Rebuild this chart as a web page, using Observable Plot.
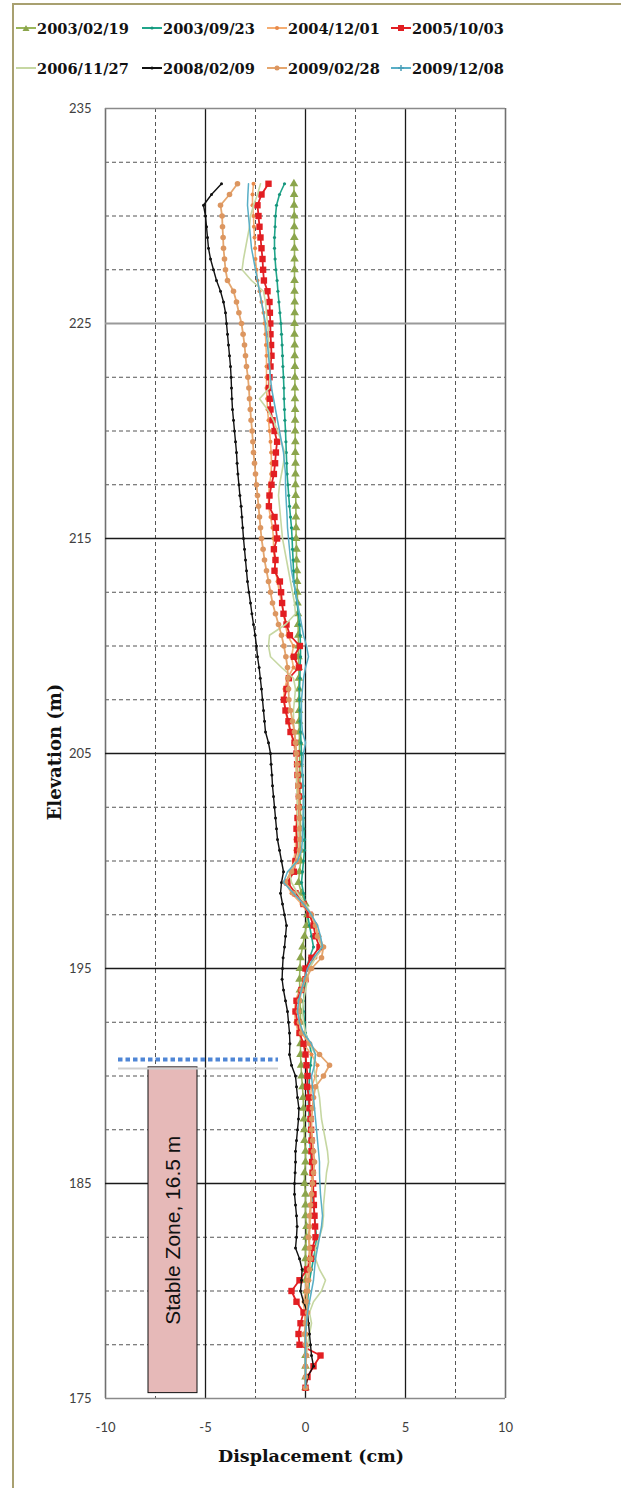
<!DOCTYPE html>
<html><head><meta charset="utf-8">
<script src="https://cdn.jsdelivr.net/npm/d3@7"></script>
<script src="https://cdn.jsdelivr.net/npm/@observablehq/plot@0.6"></script>
<style>
html,body{margin:0;padding:0;background:#fff;}
#wrap{position:relative;width:621px;height:1488px;overflow:hidden;background:#fff;}
#frame{position:absolute;left:12px;top:3px;width:700px;height:1600px;border:2px solid #a8a070;box-sizing:border-box;}
#chart{position:absolute;left:0;top:0;}
.item{position:absolute;display:flex;align-items:center;height:22px;white-space:nowrap;font-family:"DejaVu Serif",serif;font-weight:bold;font-size:14.6px;color:#111;}
.item svg{margin-right:1px;}
.lab{position:absolute;font-family:"DejaVu Serif",serif;font-weight:bold;font-size:17.5px;color:#111;white-space:nowrap;}
</style></head>
<body><div id="wrap"><div id="frame"></div><div id="chart"></div><div id="legend"></div></div>
<script>
// ---------- data ----------
const dates = ["2003/02/19","2003/09/23","2004/12/01","2005/10/03","2006/11/27","2008/02/09","2009/02/28","2009/12/08"];

const elevations = [
231.5,231,230.5,230,229.5,229,228.5,228,227.5,227,
226.5,226,225.5,225,224.5,224,223.5,223,222.5,222,
221.5,221,220.5,220,219.5,219,218.5,218,217.5,217,
216.5,216,215.5,215,214.5,214,213.5,213,212.5,212,
211.5,211,210.5,210,209.5,209,208.5,208,207.5,207,
206.5,206,205.5,205,204.5,204,203.5,203,202.5,202,
201.5,201,200.5,200,199.5,199,198.5,198,197.5,197,
196.5,196,195.5,195,194.5,194,193.5,193,192.5,192,
191.5,191,190.5,190,189.5,189,188.5,188,187.5,187,
186.5,186,185.5,185,184.5,184,183.5,183,182.5,182,
181.5,181,180.5,180,179.5,179,178.5,178,177.5,177,
176.5,176,175.5];

const d20030219 = [
-0.58,-0.57,-0.57,-0.56,-0.56,-0.56,-0.55,-0.55,-0.55,-0.55,
-0.55,-0.54,-0.54,-0.55,-0.55,-0.54,-0.54,-0.53,-0.53,-0.53,
-0.53,-0.52,-0.52,-0.52,-0.51,-0.51,-0.5,-0.5,-0.5,-0.49,
-0.48,-0.48,-0.47,-0.47,-0.45,-0.45,-0.43,-0.42,-0.41,-0.4,
-0.38,-0.37,-0.36,-0.35,-0.35,-0.34,-0.33,-0.33,-0.32,-0.32,
-0.32,-0.31,-0.3,-0.3,-0.29,-0.28,-0.28,-0.27,-0.26,-0.25,
-0.25,-0.25,-0.24,-0.24,-0.3,-0.35,-0.2,0.0,0.1,0.05,
-0.05,-0.15,-0.25,-0.28,-0.3,-0.28,-0.27,-0.25,-0.25,-0.25,
-0.25,-0.25,-0.22,-0.2,-0.15,-0.12,-0.1,-0.08,-0.06,-0.05,
0.0,0.0,-0.05,-0.05,0.0,0.0,0.0,0.05,0.05,0.0,
0.0,0.0,0.0,0.05,0.05,0.0,0.0,0.0,0.0,0.0,
0.0,0.0,0.0];

const d20030923 = [
-1.05,-1.3,-1.45,-1.5,-1.52,-1.55,-1.55,-1.52,-1.48,-1.42,
-1.38,-1.33,-1.28,-1.23,-1.2,-1.17,-1.15,-1.13,-1.1,-1.08,
-1.07,-1.05,-1.03,-1.0,-0.98,-0.96,-0.94,-0.92,-0.88,-0.84,
-0.8,-0.75,-0.7,-0.67,-0.65,-0.62,-0.6,-0.58,-0.5,-0.42,
-0.35,-0.3,-0.27,-0.25,-0.25,-0.27,-0.28,-0.3,-0.3,-0.28,
-0.27,-0.25,-0.22,-0.2,-0.18,-0.15,-0.12,-0.1,-0.1,-0.1,
-0.08,-0.05,-0.05,-0.1,-0.15,-0.2,-0.1,0.0,0.1,0.2,
0.3,0.4,0.2,0.05,0.0,-0.05,-0.1,-0.1,-0.05,0.0,
0.2,0.3,0.25,0.2,0.18,0.15,0.15,0.18,0.2,0.22,
0.25,0.28,0.3,0.32,0.35,0.4,0.45,0.5,0.55,0.5,
0.4,0.3,0.2,0.15,0.1,0.05,0.05,0.0,0.0,0.0,
0.0,0.0,0.0];

const d20041201 = [
-2.6,-2.65,-2.65,-2.6,-2.58,-2.55,-2.52,-2.5,-2.45,-2.4,
-2.3,-2.2,-2.1,-2.05,-2.0,-1.98,-1.95,-1.95,-1.95,-1.95,
-1.92,-1.9,-1.85,-1.8,-1.75,-1.72,-1.7,-1.72,-1.8,-1.85,
-1.85,-1.75,-1.65,-1.6,-1.6,-1.55,-1.5,-1.4,-1.3,-1.2,
-1.1,-1.0,-0.9,-0.6,-0.7,-0.6,-0.9,-1.05,-1.1,-1.0,
-0.9,-0.75,-0.6,-0.5,-0.48,-0.45,-0.42,-0.4,-0.42,-0.45,
-0.48,-0.5,-0.5,-0.6,-0.75,-1.0,-0.7,-0.2,0.2,0.5,
0.7,0.9,0.5,0.1,-0.1,-0.3,-0.5,-0.55,-0.5,-0.35,
-0.1,0.3,0.6,0.5,0.3,0.25,0.2,0.2,0.22,0.25,
0.3,0.3,0.3,0.32,0.3,0.28,0.25,0.22,0.2,0.2,
0.15,0.1,0.05,0.0,-0.1,-0.05,0.0,0.05,0.0,0.0,
0.0,0.0,0.0];

const d20051003 = [
-1.85,-2.2,-2.4,-2.35,-2.3,-2.25,-2.2,-2.15,-2.12,-2.08,
-1.9,-1.8,-1.78,-1.76,-1.75,-1.72,-1.7,-1.75,-1.8,-1.83,
-1.78,-1.75,-1.65,-1.55,-1.42,-1.48,-1.52,-1.58,-1.7,-1.8,
-1.83,-1.55,-1.48,-1.42,-1.58,-1.5,-1.55,-1.28,-1.22,-1.17,
-1.1,-0.95,-0.78,-0.28,-0.58,-0.33,-0.83,-0.95,-1.08,-1.0,
-0.85,-0.75,-0.55,-0.45,-0.42,-0.4,-0.35,-0.33,-0.35,-0.4,
-0.45,-0.42,-0.42,-0.5,-0.58,-0.9,-0.5,-0.1,0.2,0.4,
0.5,0.7,0.3,0.0,0.0,-0.2,-0.45,-0.5,-0.4,-0.3,
-0.1,0.0,0.05,0.1,0.08,0.17,0.2,0.25,0.28,0.3,
0.3,0.33,0.35,0.38,0.4,0.42,0.45,0.48,0.5,0.35,
0.28,0.08,-0.3,-0.7,-0.45,-0.1,-0.25,-0.35,-0.3,0.75,
0.4,0.1,0.0];

const d20061127 = [
-2.25,-2.4,-2.6,-2.75,-2.8,-2.9,-3.0,-3.1,-3.17,-2.7,
-2.1,-2.0,-1.95,-1.9,-1.85,-1.85,-1.8,-1.8,-1.78,-1.8,
-2.3,-1.9,-1.6,-1.4,-1.2,-1.05,-1.1,-1.2,-1.3,-1.35,
-1.3,-1.25,-1.2,-1.15,-1.05,-0.95,-0.85,-0.75,-0.65,-0.55,
-0.5,-1.0,-1.8,-1.85,-1.75,-1.2,-0.6,-0.5,-0.55,-0.6,
-0.6,-0.55,-0.5,-0.5,-0.48,-0.45,-0.45,-0.42,-0.4,-0.4,
-0.38,-0.35,-0.35,-0.5,-0.8,-0.7,-0.4,0.0,0.3,0.5,
0.6,0.8,0.5,0.2,0.1,0.0,-0.1,-0.15,-0.1,0.0,
0.2,0.5,0.4,0.5,0.6,0.7,0.75,0.8,0.9,1.0,
1.1,1.15,1.05,1.0,0.95,0.9,0.9,0.85,0.7,0.5,
0.5,0.7,1.0,0.8,0.4,0.2,0.3,0.2,0.1,0.05,
0.0,0.0,0.0];

const d20080209 = [
-4.2,-4.7,-5.1,-5.0,-4.95,-4.9,-4.85,-4.75,-4.6,-4.45,
-4.25,-4.1,-4.0,-3.95,-3.9,-3.85,-3.8,-3.75,-3.72,-3.7,
-3.68,-3.65,-3.6,-3.55,-3.5,-3.45,-3.42,-3.38,-3.33,-3.28,
-3.22,-3.18,-3.14,-3.1,-3.05,-3.0,-2.95,-2.9,-2.83,-2.75,
-2.68,-2.6,-2.52,-2.45,-2.4,-2.32,-2.26,-2.2,-2.15,-2.1,
-2.05,-2.0,-1.85,-1.75,-1.72,-1.68,-1.65,-1.6,-1.55,-1.5,
-1.45,-1.4,-1.3,-1.2,-1.1,-1.2,-1.25,-1.15,-1.05,-0.95,
-1.0,-1.05,-1.12,-1.15,-1.17,-1.1,-1.0,-0.9,-0.85,-0.8,
-0.78,-0.8,-0.7,-0.5,-0.45,-0.4,-0.33,-0.35,-0.4,-0.45,
-0.5,-0.5,-0.52,-0.55,-0.55,-0.5,-0.45,-0.42,-0.45,-0.5,
-0.3,-0.17,-0.2,-0.25,-0.1,0.1,0.15,0.2,0.25,0.3,
0.4,0.1,0.0];

const d20090228 = [
-3.4,-3.8,-4.25,-4.17,-4.15,-4.12,-4.1,-4.05,-4.0,-3.9,
-3.6,-3.45,-3.33,-3.2,-3.12,-3.05,-3.0,-2.95,-2.88,-2.83,
-2.8,-2.76,-2.72,-2.67,-2.63,-2.6,-2.55,-2.5,-2.45,-2.4,
-2.35,-2.3,-2.25,-2.2,-2.12,-2.05,-1.95,-1.85,-1.75,-1.65,
-1.5,-1.35,-1.2,-1.08,-0.98,-0.9,-0.88,-0.85,-0.83,-0.75,
-0.65,-0.55,-0.5,-0.45,-0.42,-0.4,-0.38,-0.35,-0.32,-0.3,
-0.3,-0.28,-0.3,-0.4,-0.7,-1.0,-0.6,-0.1,0.3,0.5,
0.6,0.9,0.8,0.3,0.0,-0.2,-0.3,-0.35,-0.3,-0.2,
0.2,0.7,1.2,0.9,0.5,0.4,0.35,0.3,0.3,0.35,
0.4,0.45,0.4,0.35,0.3,0.25,0.2,0.2,0.15,0.2,
0.25,0.2,0.15,0.1,0.05,0.1,0.0,-0.05,0.0,0.05,
0.0,0.0,0.0];

const d20091208 = [
-2.85,-2.88,-2.9,-2.85,-2.8,-2.75,-2.7,-2.6,-2.5,-2.4,
-2.3,-2.2,-2.1,-2.0,-1.95,-1.9,-1.85,-1.8,-1.75,-1.7,
-1.6,-1.5,-1.4,-1.3,-1.2,-1.1,-1.05,-1.0,-1.0,-0.98,
-0.95,-0.92,-0.9,-0.85,-0.8,-0.75,-0.7,-0.6,-0.5,-0.4,
-0.3,-0.2,-0.1,0.05,0.15,0.0,-0.1,-0.15,-0.2,-0.2,
-0.2,-0.15,0.0,-0.1,-0.15,-0.15,-0.12,-0.1,-0.1,-0.12,
-0.15,-0.15,-0.2,-0.4,-0.9,-1.1,-0.6,-0.1,0.3,0.6,
0.75,0.85,0.4,0.1,-0.05,-0.2,-0.35,-0.4,-0.3,-0.1,
0.3,0.5,0.45,0.3,0.35,0.4,0.45,0.5,0.55,0.6,
0.65,0.7,0.7,0.72,0.75,0.8,0.85,0.8,0.7,0.6,
0.5,0.45,0.4,0.3,0.2,0.1,0.05,0.0,0.0,0.0,
0.0,0.0,0.0];

const seriesValues = [d20030219,d20030923,d20041201,d20051003,d20061127,d20080209,d20090228,d20091208];

const xTicks = [-10,-5,0,5,10];
const yTicks = [175,185,195,205,215,225,235];
const xMinor = [-7.5,-2.5,2.5,7.5];
const yMinor = [177.5,180,182.5,187.5,190,192.5,197.5,200,202.5,207.5,210,212.5,217.5,220,222.5,227.5,230,232.5];

const stableZone = {label:"Stable Zone, 16.5 m", x1:-7.85, x2:-5.4, y1:175.25, y2:190.4};
const stableTop = {x1:-9.35, x2:-1.35, y:190.77};

// ---------- styles ----------
const styles = [
 {color:"#9ab65a", mcolor:"#8ba54c", symbol:"triangle", r:3.2, sw:1.6},
 {color:"#1fa58a", mcolor:"#17957c", symbol:"circle", r:1.6, sw:1.6},
 {color:"#f5ad72", mcolor:"#e8894a", symbol:"circle", r:2.0, sw:1.6},
 {color:"#e21e22", mcolor:"#e21e22", symbol:"square", r:3.6, sw:1.8},
 {color:"#c6d7a2", mcolor:"#c6d7a2", symbol:null, r:0, sw:1.6},
 {color:"#111111", mcolor:"#111111", symbol:"circle", r:1.5, sw:1.4},
 {color:"#e5a66e", mcolor:"#dc9660", symbol:"circle", r:2.8, sw:1.8},
 {color:"#58aec6", mcolor:"#4a9fb8", symbol:"plus", r:2.6, sw:1.5}
];

const rows = [];
dates.forEach((d,i)=>{
  seriesValues[i].forEach((v,j)=>{ rows.push({date:d, idx:i, elev:elevations[j], disp:v}); });
});

const marks = [
  Plot.ruleX(xMinor, {stroke:"#555", strokeWidth:1, strokeDasharray:"4,3"}),
  Plot.ruleY(yMinor, {stroke:"#555", strokeWidth:1, strokeDasharray:"4,3"}),
  Plot.ruleX([-5,0,5], {stroke:"#1a1a1a", strokeWidth:1.3}),
  Plot.ruleX([-10,10], {stroke:"#707070", strokeWidth:1.6}),
  Plot.ruleY([185,195,205,215], {stroke:"#1a1a1a", strokeWidth:1.3}),
  Plot.ruleY([225], {stroke:"#9a9a9a", strokeWidth:2.2}),
  Plot.ruleY([175,235], {stroke:"#8a8a8a", strokeWidth:1.6}),
  Plot.rect([stableZone], {x1:"x1", x2:"x2", y1:"y1", y2:"y2", fill:"#e6b9b8", stroke:"#111", strokeWidth:1}),
  Plot.ruleY([stableTop], {x1:"x1", x2:"x2", y:"y", stroke:"#cfcfcf", strokeWidth:2, dy:9}),
  Plot.ruleY([stableTop], {x1:"x1", x2:"x2", y:"y", stroke:"#4f86d6", strokeWidth:4, strokeDasharray:"4.5,3"}),
  Plot.text([stableZone], {x:d=>(d.x1+d.x2)/2, y:d=>(d.y1+d.y2)/2, text:"label", rotate:-90, fontSize:21, fill:"#111", fontFamily:"Liberation Sans, Arial, sans-serif"})
];
dates.forEach((d,i)=>{
  const s = styles[i];
  const data = rows.filter(r=>r.idx===i);
  marks.push(Plot.line(data, {x:"disp", y:"elev", stroke:s.color, strokeWidth:s.sw}));
  if (s.symbol) {
    if (s.symbol === "plus") {
      marks.push(Plot.dot(data, {x:"disp", y:"elev", symbol:"plus", r:s.r, fill:s.mcolor}));
    } else {
      marks.push(Plot.dot(data, {x:"disp", y:"elev", symbol:s.symbol, r:s.r, fill:s.mcolor, stroke:"none"}));
    }
  }
});
marks.push(Plot.axisX(xTicks, {tickSize:0, tickPadding:24, tickFormat:d=>String(d), label:null, fontSize:13, fill:"#404040"}));
marks.push(Plot.axisY(yTicks, {tickSize:0, tickPadding:14, tickFormat:d=>String(d), label:null, fontSize:13, fill:"#404040"}));

const chart = Plot.plot({
  width:621, height:1488,
  marginLeft:105, marginRight:116, marginTop:108, marginBottom:90,
  x:{domain:[-10,10]},
  y:{domain:[175,235]},
  style:{fontFamily:"Lato, sans-serif", background:"transparent", overflow:"visible"},
  marks
});
document.getElementById("chart").appendChild(chart);

// ---------- legend & titles ----------
const wrap = document.getElementById("wrap");
const legendPos = [[16,17],[142,17],[267,17],[391,17],[16,57],[142,57],[267,57],[391,57]];
dates.forEach((d,i)=>{
  const s = styles[i];
  const el = document.createElement("div");
  el.className = "item";
  el.style.left = legendPos[i][0]+"px";
  el.style.top = legendPos[i][1]+"px";
  let marker = "";
  if (s.symbol==="triangle") marker = `<path d="M10,3 L13.5,9 L6.5,9 Z" fill="${s.mcolor}"/>`;
  else if (s.symbol==="square") marker = `<rect x="7" y="3" width="6" height="6" fill="${s.mcolor}"/>`;
  else if (s.symbol==="plus") marker = `<path d="M10,3 V9 M7,6 H13" stroke="${s.mcolor}" stroke-width="1.5"/>`;
  else if (s.symbol==="circle") marker = `<circle cx="10" cy="6" r="${Math.min(s.r,2.5)}" fill="${s.mcolor}"/>`;
  el.innerHTML = `<svg width="20" height="12"><line x1="0" y1="6" x2="20" y2="6" stroke="${s.color}" stroke-width="2"/>${marker}</svg><span>${d}</span>`;
  wrap.appendChild(el);
});
const xl = document.createElement("div");
xl.className="lab"; xl.textContent="Displacement (cm)";
xl.style.left="311px"; xl.style.top="1456px"; xl.style.transform="translate(-50%,-50%)";
wrap.appendChild(xl);
const yl = document.createElement("div");
yl.className="lab"; yl.textContent="Elevation (m)";
yl.style.fontSize="18px";
yl.style.left="54px"; yl.style.top="752px"; yl.style.transform="translate(-50%,-50%) rotate(-90deg)";
wrap.appendChild(yl);
</script>
</body></html>
